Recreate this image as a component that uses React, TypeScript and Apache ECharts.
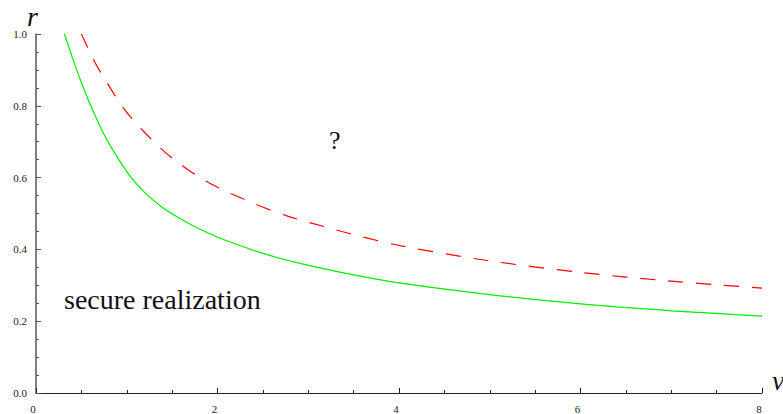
import React, { useEffect, useRef } from "react";
import * as echarts from "echarts";

// Secure-realization boundary (solid green)
const greenNu = [0.313, 0.4, 0.5, 0.6, 0.75, 0.9, 1.04, 1.2, 1.37, 1.6, 1.81, 2.03, 2.5, 2.91, 3.5, 4.02, 5.0, 6.0, 7.0, 8.0];
const greenR = [1.0, 0.935, 0.865, 0.802, 0.72, 0.655, 0.603, 0.558, 0.521, 0.484, 0.456, 0.431, 0.389, 0.361, 0.329, 0.306, 0.274, 0.248, 0.229, 0.214];

// Upper boundary (dashed red)
const redNu = [0.5, 0.63, 0.706, 0.96, 1.2, 1.52, 1.91, 2.4, 2.78, 3.2, 3.56, 4.04, 4.97, 6.0, 6.89, 8.0];
const redR = [1.0, 0.93, 0.896, 0.795, 0.725, 0.65, 0.585, 0.528, 0.492, 0.462, 0.437, 0.409, 0.369, 0.336, 0.314, 0.292];

const xTicks = [0, 2, 4, 6, 8];
const yTicks = [0.0, 0.2, 0.4, 0.6, 0.8, 1.0];

const SERIF = "Liberation Serif";

export default function App() {
  const ref = useRef<HTMLDivElement>(null);
  useEffect(() => {
    if (!ref.current) return;
    const chart = echarts.init(ref.current, null, { renderer: "svg" });
    const xMin = xTicks[0];
    const xMax = xTicks[xTicks.length - 1];
    const yMin = yTicks[0];
    const yMax = yTicks[yTicks.length - 1];
    const txt = (text: string, x: number, y: number, size: number, italic: boolean) => ({
      type: "text",
      left: x,
      top: y,
      style: {
        text,
        fontFamily: SERIF,
        fontSize: size,
        fontStyle: italic ? "italic" : "normal",
        fill: "#111",
      },
    });
    chart.setOption({
      animation: false,
      backgroundColor: "#ffffff",
      textStyle: { fontFamily: SERIF },
      grid: { left: 36, top: 34, right: 21, bottom: 18, containLabel: false },
      xAxis: {
        type: "value",
        min: xMin,
        max: xMax,
        interval: xTicks[1] - xTicks[0],
        axisLine: { show: true, onZero: false, lineStyle: { color: "#222", width: 1 } },
        axisTick: { show: true, inside: true, length: 5, lineStyle: { color: "#222" } },
        minorTick: { show: true, splitNumber: 4, length: 3, lineStyle: { color: "#222" } },
        splitLine: { show: false },
        minorSplitLine: { show: false },
        axisLabel: {
          margin: 10,
          fontFamily: SERIF,
          fontSize: 11,
          color: "#222",
          padding: [0, 6, 0, 0],
          formatter: (v: number) => String(v),
        },
      },
      yAxis: {
        type: "value",
        min: yMin,
        max: yMax,
        interval: 0.2,
        axisLine: { show: true, onZero: false, lineStyle: { color: "#555", width: 1.5 } },
        axisTick: { show: true, inside: true, length: 5, lineStyle: { color: "#555" } },
        minorTick: { show: true, splitNumber: 4, length: 3, lineStyle: { color: "#555" } },
        splitLine: { show: false },
        minorSplitLine: { show: false },
        axisLabel: {
          margin: 9,
          fontFamily: SERIF,
          fontSize: 11,
          color: "#222",
          formatter: (v: number) => v.toFixed(1),
        },
      },
      series: [
        {
          type: "line",
          name: "secure",
          data: greenNu.map((x, i) => [x, greenR[i]]),
          smooth: 0.3,
          showSymbol: false,
          lineStyle: { color: "#00ee00", width: 1.2 },
          clip: true,
        },
        {
          type: "line",
          name: "bound",
          data: redNu.map((x, i) => [x, redR[i]]),
          smooth: 0.3,
          showSymbol: false,
          lineStyle: { color: "#ff0000", width: 1.2, type: [15, 13] },
          clip: true,
        },
      ],
      graphic: [
        txt("r", 27, 2, 28, true),
        txt("ν", 772, 366, 28, true),
        txt("?", 329, 127, 26, false),
        txt("secure realization", 64, 285, 28, false),
      ],
    });
    return () => chart.dispose();
  }, []);
  return (
    <div
      ref={ref}
      style={{ position: "fixed", left: 0, top: 0, width: 783, height: 414 }}
    />
  );
}
